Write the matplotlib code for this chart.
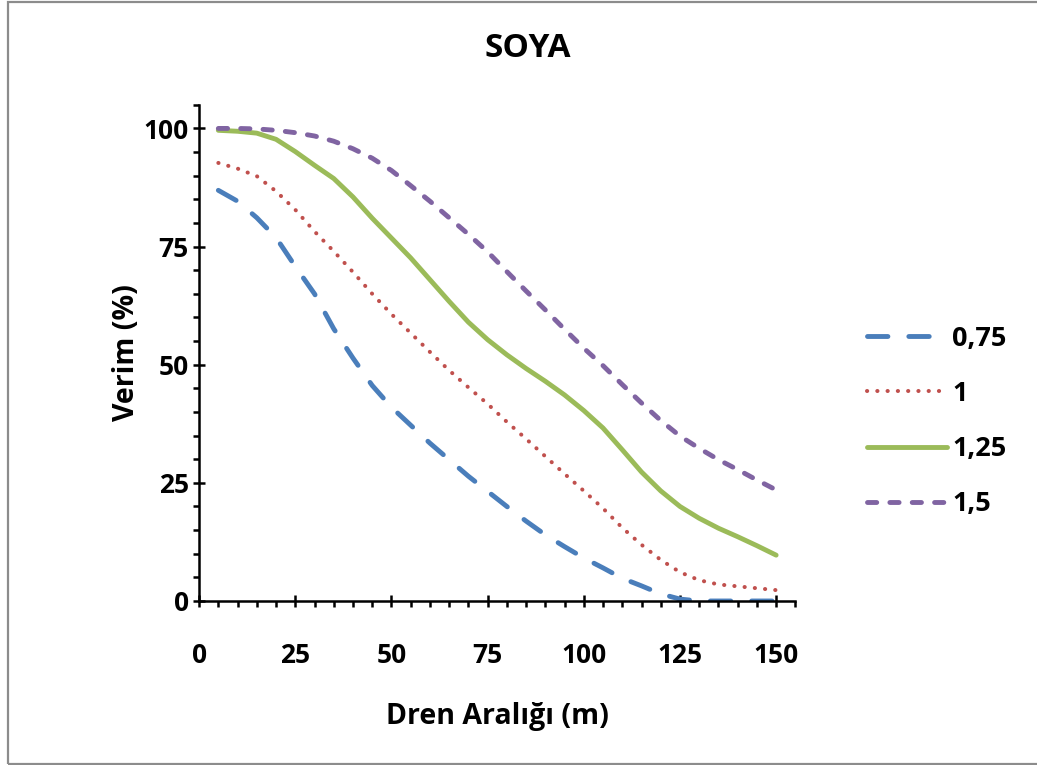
import numpy as np
import matplotlib
matplotlib.use("Agg")
import matplotlib.pyplot as plt
from matplotlib.patches import Rectangle
from matplotlib.ticker import MultipleLocator

plt.rcParams['font.family'] = ['Open Sans', 'DejaVu Sans']
plt.rcParams['font.weight'] = 'bold'

# dren araligi (m)
x = [5, 10, 15, 20, 25, 30, 35, 40, 45, 50, 55, 60, 65, 70, 75,
     80, 85, 90, 95, 100, 105, 110, 115, 120, 125, 130, 135, 140, 145, 150]

# verim (%) for each series
s075 = [86.9, 84.6, 81.1, 76.9, 70.8, 65.0, 57.6, 51.4, 45.6, 41.0, 37.2, 33.4, 29.9, 26.4, 23.2,
        20.0, 16.9, 14.0, 11.5, 9.1, 7.0, 4.8, 3.2, 1.5, 0.4, 0.0, 0.0, 0.0, 0.0, 0.0]
s1 = [92.7, 91.5, 89.9, 86.7, 82.8, 78.2, 74.0, 69.6, 65.0, 60.7, 56.7, 52.7, 48.8, 45.2, 41.7,
      37.9, 34.3, 30.6, 26.9, 23.3, 19.6, 15.5, 11.9, 8.7, 6.1, 4.4, 3.5, 3.1, 2.7, 2.3]
s125 = [99.6, 99.4, 99.0, 97.7, 95.1, 92.2, 89.4, 85.5, 81.0, 76.8, 72.6, 68.0, 63.4, 59.0, 55.3,
        52.1, 49.2, 46.5, 43.6, 40.3, 36.6, 32.0, 27.3, 23.3, 20.0, 17.5, 15.4, 13.6, 11.7, 9.7]
s15 = [100.0, 100.0, 99.9, 99.6, 99.1, 98.4, 97.3, 95.7, 93.7, 91.1, 87.9, 84.6, 81.1, 77.6, 73.9,
       69.7, 65.6, 61.6, 57.5, 53.5, 49.8, 45.8, 41.9, 38.2, 34.9, 32.3, 29.9, 27.8, 25.6, 23.5]

labels = ["0,75", "1", "1,25", "1,5"]

fig = plt.figure(figsize=(10.37, 7.65), dpi=100)
ax = fig.add_axes([0.192, 0.2144, 0.575, 0.6486])

lw = 3.5
ax.plot(x, s075, color="#4A7EBB", lw=lw, linestyle=(0, (4.2, 4.3)),
        dash_capstyle="round", solid_capstyle="round", label=labels[0])
ax.plot(x, s1, color="#C0504D", lw=2.9, linestyle=(0, (0.05, 2.5)),
        dash_capstyle="round", label=labels[1])
ax.plot(x, s125, color="#9BBB59", lw=lw, solid_capstyle="round",
        solid_joinstyle="round", label=labels[2])
ax.plot(x, s15, color="#8064A2", lw=lw, linestyle=(0, (1.9, 2.7)),
        dash_capstyle="round", label=labels[3])

ax.set_xlim(0, 155)
ax.set_ylim(0, 105)
ax.xaxis.set_major_locator(MultipleLocator(25))
ax.xaxis.set_minor_locator(MultipleLocator(5))
ax.yaxis.set_major_locator(MultipleLocator(25))
ax.yaxis.set_minor_locator(MultipleLocator(5))

for s in ["top", "right"]:
    ax.spines[s].set_visible(False)
for s in ["left", "bottom"]:
    ax.spines[s].set_linewidth(1.8)

ax.tick_params(which="major", direction="inout", length=9, width=1.8, labelsize=19)
ax.tick_params(which="minor", direction="out", length=4.5, width=1.8)
ax.tick_params(axis="x", which="major", pad=25)
ax.tick_params(axis="y", which="major", pad=3)
for t in ax.get_xticklabels() + ax.get_yticklabels():
    t.set_fontweight("bold")

ax.set_xlabel("Dren Aralığı (m)", fontsize=20.5, fontweight="bold", labelpad=24)
ax.set_ylabel("Verim (%)", fontsize=20.5, fontweight="bold", labelpad=2)
fig.text(0.509, 0.937, "SOYA", fontsize=24, fontweight="bold", ha="center", va="center")

fig.legend(loc="center left", bbox_to_anchor=(0.823, 0.449), frameon=False,
           handlelength=2.95, handletextpad=0.2, labelspacing=1.08,
           borderpad=0, prop={"weight": "bold", "size": 19.5})

fig.patches.append(Rectangle((8 / 1037, 1 / 765), 1.1, 762 / 765, transform=fig.transFigure,
                             fill=False, edgecolor="#8c8c8c", lw=1.6))

fig.savefig("out.png", dpi=100)
